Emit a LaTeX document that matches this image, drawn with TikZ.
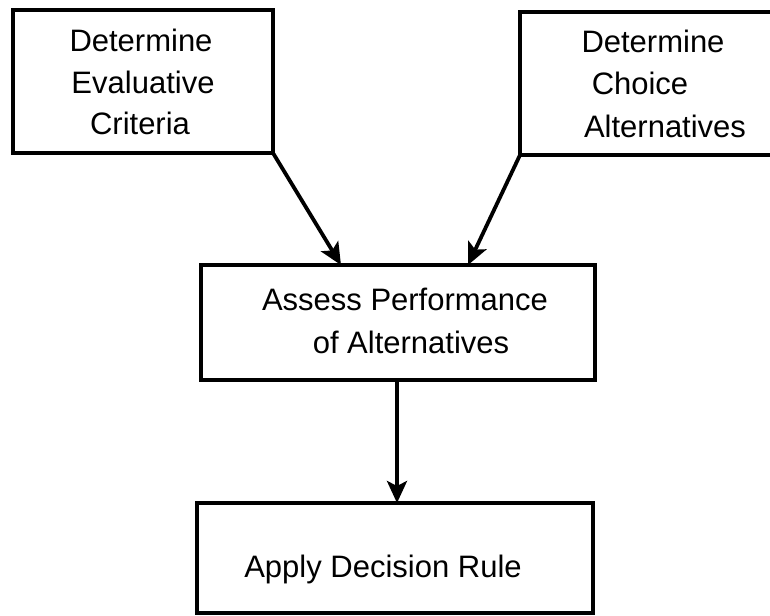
\documentclass[tikz,border=0pt]{standalone}
\usepackage{fontspec}
\setmainfont{Liberation Sans}
\usetikzlibrary{arrows.meta}

\begin{document}
\begin{tikzpicture}[x=1pt,y=-1pt,
  stepbox/.style={draw=black, line width=3.5pt, fill=none, rectangle,
    inner sep=0pt, outer sep=0pt, anchor=north west},
  steptext/.style={anchor=base, inner sep=0pt, font=\fontsize{31}{36}\selectfont},
  flow/.style={line width=3.8pt, -{Stealth[length=22pt,width=20pt,inset=5pt]}}]
  \useasboundingbox (0,0) rectangle (770,615);
  \clip (0,0) rectangle (770,615);

  % boxes
  \node[stepbox, minimum width=260pt, minimum height=143pt] (crit) at (13,10) {};
  \node[stepbox, minimum width=290pt, minimum height=143pt] (alts) at (520,12) {};
  \node[stepbox, minimum width=394pt, minimum height=115pt] (assess) at (201,265) {};
  \node[stepbox, minimum width=396pt, minimum height=110pt] (rule) at (197,503) {};

  % labels
  \node[steptext] (critA) at (141,52) {Determine};
  \node[steptext] (critB) at (143,94) {Evaluative};
  \node[steptext] (critC) at (140,134) {Criteria};

  \node[steptext] (altsA) at (653,53) {Determine};
  \node[steptext] (altsB) at (640,95) {Choice};
  \node[steptext] (altsC) at (665,137) {Alternatives};

  \node[steptext] (assessA) at (405,310) {Assess Performance};
  \node[steptext] (assessB) at (411,353) {of Alternatives};

  \node[steptext] (ruleA) at (383,577) {Apply Decision Rule};

  % arrow targets on the top edge of the middle box
  \coordinate (inL) at (341,265);
  \coordinate (inR) at (468,265);
  \coordinate (inD) at (397,503);

  % connectors
  \draw[flow] (crit.south east) -- (inL);
  \draw[flow] (alts.south west) -- (inR);
  \draw[flow] (assess.south -| inD) -- (inD);
\end{tikzpicture}
\end{document}
